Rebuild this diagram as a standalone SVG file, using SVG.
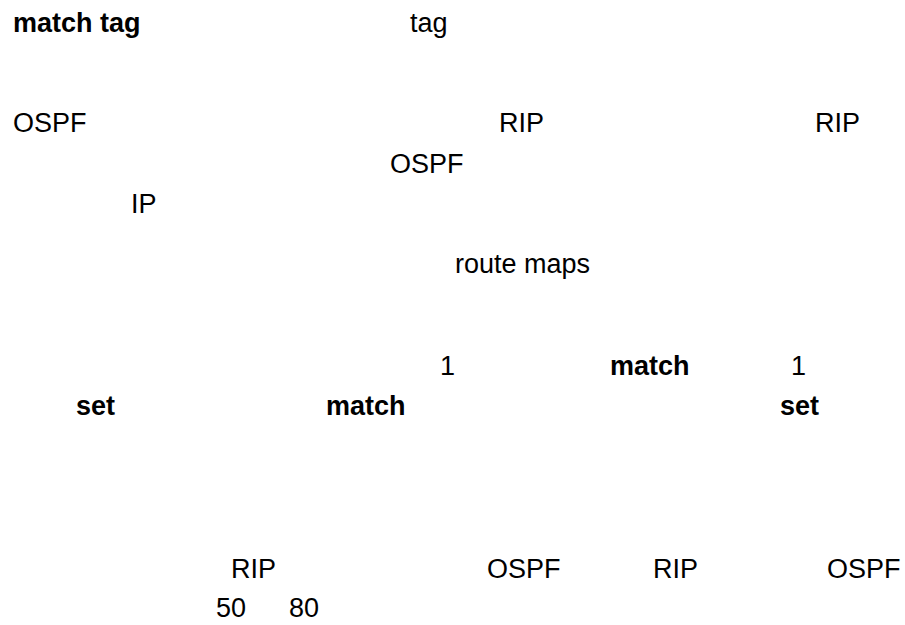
<svg xmlns="http://www.w3.org/2000/svg" width="905" height="625" viewBox="0 0 905 625">
<style>
text{font-family:"Liberation Sans",Arial,sans-serif;font-size:27px;fill:#000}
.b{font-weight:bold}
</style>
<rect width="905" height="625" fill="#fff"/>
<g id="text">
<text class="b" x="13" y="32">match tag</text>
<text x="410" y="32">tag</text>
<text x="13" y="132">OSPF</text>
<text x="499" y="132">RIP</text>
<text x="815" y="132">RIP</text>
<text x="390" y="173">OSPF</text>
<text x="131" y="213">IP</text>
<text x="455" y="273">route maps</text>
<text x="440" y="375">1</text>
<text class="b" x="610" y="375">match</text>
<text x="791" y="375">1</text>
<text class="b" x="76" y="415">set</text>
<text class="b" x="326" y="415">match</text>
<text class="b" x="780" y="415">set</text>
<text x="231" y="578">RIP</text>
<text x="487" y="578">OSPF</text>
<text x="653" y="578">RIP</text>
<text x="827" y="578">OSPF</text>
<text x="216" y="617">50</text>
<text x="289" y="617">80</text>
</g>
</svg>
